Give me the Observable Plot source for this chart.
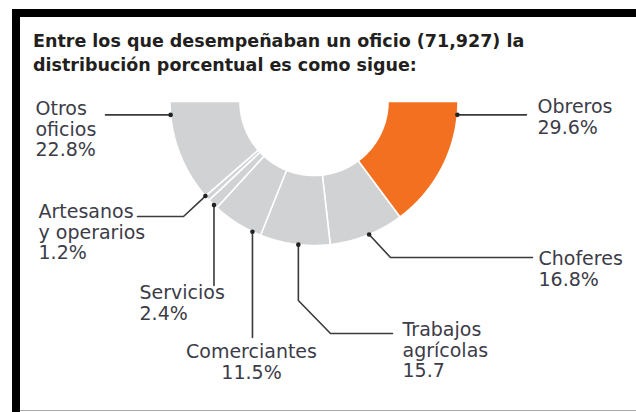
<!DOCTYPE html>
<html>
<head>
<meta charset="utf-8">
<script src="https://cdn.jsdelivr.net/npm/d3@7"></script>
<script src="https://cdn.jsdelivr.net/npm/@observablehq/plot@0.6"></script>
<style>
  html, body { margin: 0; padding: 0; background: #fff; }
  #wrap { position: relative; width: 636px; height: 412px; overflow: hidden; background: #fff; }
  #chart { position: absolute; left: 0; top: 0; }
  .bar { position: absolute; background: #000; }
  #title { position: absolute; left: 33px; top: 29px; font-family: "DejaVu Sans", sans-serif;
           font-weight: bold; font-size: 17.5px; line-height: 24px; color: #231f20; white-space: nowrap; }
</style>
</head>
<body>
<div id="wrap">
  <div id="chart"></div>
  <div class="bar" style="left:12px; top:9px; width:8px; height:403px;"></div>
  <div class="bar" style="left:12px; top:9px; width:624px; height:8px;"></div>
  <div class="bar" style="left:20px; top:410px; width:616px; height:1px; background:#aaa;"></div>
  <div id="title">Entre los que desempeñaban un oficio (71,927) la<br>distribución porcentual es como sigue:</div>
</div>
<script>
// ---- data ----
const categories = ["Obreros", "Choferes", "Trabajos agrícolas", "Comerciantes", "Servicios", "Artesanos y operarios", "Otros oficios"];
const shares = [29.6, 16.8, 15.7, 11.5, 2.4, 1.2, 22.8];
const nameLines = ["Obreros", "Choferes", "Trabajos\nagrícolas", "Comerciantes", "Servicios", "Artesanos\ny operarios", "Otros\noficios"];
const valueLabels = ["29.6%", "16.8%", "15.7", "11.5%", "2.4%", "1.2%", "22.8%"];
const highlight = ["Obreros"];

// ---- layout (not data) ----
const cx = 313.5, cy = 101, R = 144, r0 = 74;
const callouts = [
  {t: 0.10, path: [[526, null]], tx: 537, ty: 98, anchor: "start"},
  {t: 0.47, path: [[390, 257], [532, 257]], tx: 538, ty: 250, anchor: "start"},
  {t: 0.45, path: [[null, 300], [330, 333], [392, 333]], tx: 402, ty: 321, anchor: "start"},
  {t: 0.17, path: [[null, 337]], tx: 251, ty: 343, anchor: "middle"},
  {t: 0.35, path: [[null, 285]], tx: 139, ty: 284, anchor: "start"},
  {t: 1.00, path: [[183, 216], [137, 216]], tx: 38, ty: 203, anchor: "start"},
  {t: 0.87, path: [[105, null]], tx: 35, ty: 100, anchor: "start"}
];

const total = d3.sum(shares);
const deg = Math.PI / 180;
const pt = (a, rad) => [cx + rad * Math.cos(a * deg), cy + rad * Math.sin(a * deg)];

let acc = 0;
const segments = categories.map((c, i) => {
  const a0 = acc / total * 180;
  acc += shares[i];
  const a1 = acc / total * 180;
  return {name: c, a0, a1};
});

// arc outline points (sampled along the circle between data-derived angles)
const arcPts = [];
segments.forEach(s => {
  const n = Math.max(2, Math.ceil((s.a1 - s.a0) / 0.5));
  const outer = d3.range(n + 1).map(k => s.a0 + (s.a1 - s.a0) * k / n);
  outer.forEach(a => { const [x, y] = pt(a, R); arcPts.push({name: s.name, x, y}); });
  outer.slice().reverse().forEach(a => { const [x, y] = pt(a, r0); arcPts.push({name: s.name, x, y}); });
});

const anchors = [], leaderPts = [], labels = [];
segments.forEach((s, i) => {
  const c = callouts[i];
  const a = s.a0 + (s.a1 - s.a0) * c.t;
  let [x, y] = pt(a, R);
  anchors.push({name: s.name, x, y});
  leaderPts.push({name: s.name, x, y});
  c.path.forEach(([px, py]) => {
    x = px == null ? x : px;
    y = py == null ? y : py;
    leaderPts.push({name: s.name, x, y});
  });
  labels.push({name: s.name, x: c.tx, y: c.ty, anchor: c.anchor, text: nameLines[i] + "\n" + valueLabels[i]});
});

const font = "'DejaVu Sans', sans-serif";
const textStyle = {x: "x", y: "y", text: "text", lineAnchor: "top", fontSize: 19, lineHeight: 1.08, fill: "#3c3c48", fontFamily: font};

const chart = Plot.plot({
  width: 636, height: 412, margin: 0,
  x: {domain: [0, 636], range: [0, 636], axis: null},
  y: {domain: [0, 412], range: [0, 412], axis: null},
  style: {background: "transparent", fontFamily: font},
  marks: [
    Plot.line(arcPts.filter(d => !highlight.includes(d.name)), {x: "x", y: "y", z: "name", curve: "linear-closed", fill: "#d1d2d4", stroke: "#fff", strokeWidth: 1.6}),
    Plot.line(arcPts.filter(d => highlight.includes(d.name)), {x: "x", y: "y", z: "name", curve: "linear-closed", fill: "#f37021", stroke: "#fff", strokeWidth: 1.6}),
    Plot.line(leaderPts, {x: "x", y: "y", z: "name", stroke: "#3a3a3a", strokeWidth: 1.6}),
    Plot.dot(anchors, {x: "x", y: "y", r: 2.3, fill: "#222"}),
    Plot.text(labels.filter(d => d.anchor === "start"), {...textStyle, textAnchor: "start"}),
    Plot.text(labels.filter(d => d.anchor === "middle"), {...textStyle, textAnchor: "middle"})
  ]
});
document.getElementById("chart").appendChild(chart);
</script>
</body>
</html>
